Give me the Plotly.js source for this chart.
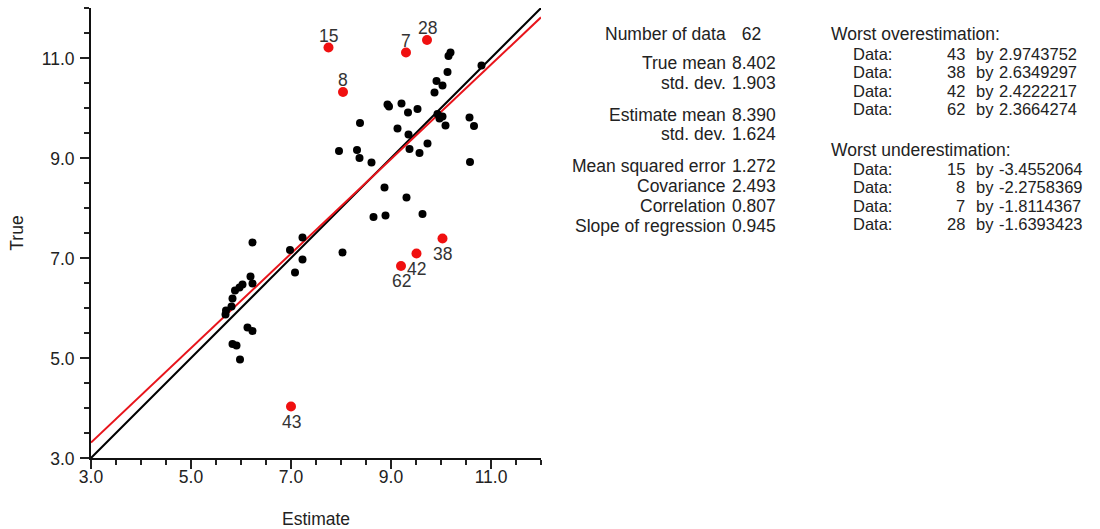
<!DOCTYPE html>
<html><head><meta charset="utf-8">
<script src="https://cdn.plot.ly/plotly-3.0.1.min.js"></script>
<style>html,body{margin:0;padding:0;background:#fff;}#chart{width:1100px;height:529px;}</style>
</head><body><div id="chart"></div>
<script>
// ---- data ----
const otherEstimate = [6.23,7.23,6.98,7.23,7.08,6.19,6.23,6.03,5.97,5.88,5.83,5.81,5.70,5.69,6.13,6.23,5.83,5.91,5.98,8.03,
  8.93,8.96,9.21,9.34,9.53,8.38,9.13,9.35,9.73,7.96,8.32,8.37,8.61,9.37,9.57,8.87,9.31,8.65,8.89,9.63,
  10.19,10.15,10.81,10.13,9.91,10.03,9.87,9.93,10.03,9.97,10.09,10.57,10.66,10.58];
const otherTrue = [7.31,7.41,7.16,6.97,6.71,6.63,6.49,6.47,6.41,6.35,6.19,6.03,5.95,5.87,5.61,5.54,5.28,5.25,4.97,7.11,
  10.07,10.03,10.09,9.91,9.98,9.70,9.59,9.47,9.29,9.14,9.16,9.00,8.91,9.18,9.10,8.41,8.21,7.82,7.85,7.88,
  11.11,11.04,10.85,10.72,10.54,10.45,10.31,9.88,9.83,9.79,9.65,9.81,9.64,8.92];
const flaggedId = [43,38,42,62,15,8,7,28];
const flaggedEstimate = [7.00,10.03,9.51,9.20,7.75,8.04,9.30,9.72];
const flaggedTrue = [4.03,7.39,7.09,6.84,11.21,10.32,11.11,11.36];

const statLabels = ['Number of data','True mean','std. dev.','Estimate mean','std. dev.','Mean squared error','Covariance','Correlation','Slope of regression'];
const statValues = ['62','8.402','1.903','8.390','1.624','1.272','2.493','0.807','0.945'];
const overTitle = 'Worst overestimation:';
const overIds = ['43','38','42','62'];
const overBy = ['2.9743752','2.6349297','2.4222217','2.3664274'];
const underTitle = 'Worst underestimation:';
const underIds = ['15','8','7','28'];
const underBy = ['-3.4552064','-2.2758369','-1.8114367','-1.6393423'];
const axisRange = [3, 12];

// ---- derived ----
const trueMean = parseFloat(statValues[1]);
const estMean = parseFloat(statValues[3]);
const slope = parseFloat(statValues[8]);
const intercept = trueMean - slope * estMean;
const regX = axisRange.slice();
const regY = regX.map(x => intercept + slope * x);

// ---- layout helpers (pixel -> paper) ----
const L = 91, T = 8, W = 450, H = 450;
const px = x => (x - L) / W;
const py = y => (T + H - y) / H;
const FONT = 'Liberation Sans, Arial, Helvetica, sans-serif';
const FS = 17.5;
const FS_R = 16.5;
const TXT = '#222';

const ann = [];
function addText(text, x, y, anchor, size) {
  ann.push({text: text, xref: 'paper', yref: 'paper', x: px(x), y: py(y),
    xanchor: anchor, yanchor: 'middle', showarrow: false, borderpad: 0,
    font: {family: FONT, size: size || FS, color: TXT}});
}
const statY = [34, 63, 83, 115, 134, 166, 186, 206, 226];
statLabels.forEach((s, i) => {
  addText(s, 727, statY[i], 'right');
  addText(statValues[i].padStart(4, '\u00a0'), 731, statY[i], 'left');
});
const rowGap = 18.5;
function addBlock(title, titleY, ids, vals, midY) {
  addText(title, 830, titleY, 'left', FS);
  ids.forEach((id, i) => {
    const y = midY + (i - 1.5) * rowGap;
    addText('Data:', 852, y, 'left', FS_R);
    addText(id, 966, y, 'right', FS_R);
    addText('by', 975, y, 'left', FS_R);
    addText(vals[i], 998, y, 'left', FS_R);
  });
}
addBlock(overTitle, 34, overIds, overBy, 81.6);
addBlock(underTitle, 150, underIds, underBy, 196.6);

// point labels: overestimated points labelled below, underestimated above
flaggedId.forEach((id, i) => {
  const over = flaggedEstimate[i] - flaggedTrue[i] > 0;
  ann.push({text: String(id), xref: 'x', yref: 'y', x: flaggedEstimate[i], y: flaggedTrue[i],
    xanchor: 'center', yanchor: 'middle', yshift: over ? -15 : 12, showarrow: false,
    font: {family: FONT, size: FS, color: '#333'}});
});

const traces = [
  {x: axisRange, y: axisRange, mode: 'lines', line: {color: '#000', width: 2}, hoverinfo: 'skip'},
  {x: regX, y: regY, mode: 'lines', line: {color: '#e8141b', width: 2}, hoverinfo: 'skip'},
  {x: otherEstimate, y: otherTrue, mode: 'markers', marker: {color: '#000', size: 8}},
  {x: flaggedEstimate, y: flaggedTrue, mode: 'markers', marker: {color: '#f01010', size: 10}}
];

const axisCommon = {
  range: axisRange, tick0: 3, dtick: 2, tickformat: '.1f',
  ticks: 'outside', ticklen: 9, tickwidth: 1.5, tickcolor: '#222',
  minor: {tick0: 3, dtick: 0.5, ticks: 'outside', ticklen: 5, tickwidth: 1.5, tickcolor: '#222'},
  showline: true, linecolor: '#111', linewidth: 2, mirror: false,
  showgrid: false, zeroline: false, fixedrange: true,
  tickfont: {family: FONT, size: FS, color: TXT}
};

const layout = {
  width: 1100, height: 529,
  margin: {l: L, t: T, r: 1100 - L - W, b: 529 - T - H, pad: 0},
  paper_bgcolor: '#fff', plot_bgcolor: '#fff',
  showlegend: false,
  xaxis: Object.assign({}, axisCommon, {
    ticklabelstandoff: -7,
    title: {text: 'Estimate', standoff: 29, font: {family: FONT, size: FS, color: TXT}}
  }),
  yaxis: Object.assign({}, axisCommon, {
    ticklabelshift: 1,
    ticklabelstandoff: 2,
    title: {text: 'True', standoff: 14, font: {family: FONT, size: FS, color: TXT}}
  }),
  annotations: ann
};

Plotly.newPlot('chart', traces, layout, {displayModeBar: false, staticPlot: true});
</script>
</body></html>
